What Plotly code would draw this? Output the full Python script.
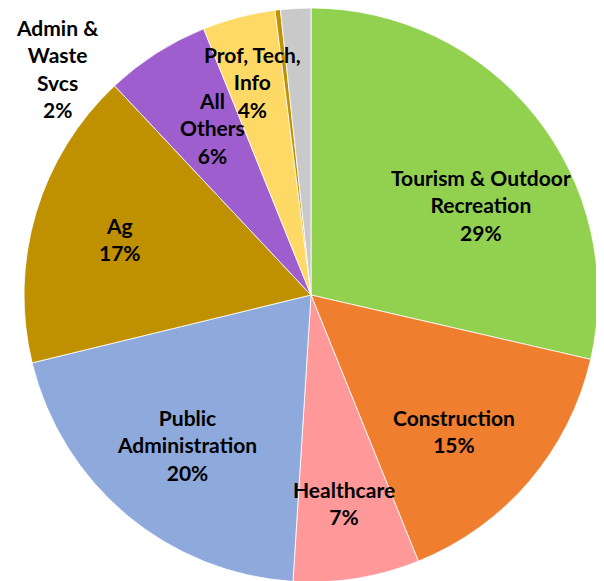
import plotly.graph_objects as go

# Data (clockwise from 12 o'clock)
categories = ["Tourism & Outdoor Recreation", "Construction", "Healthcare",
              "Public Administration", "Ag", "All Others", "Prof, Tech, Info",
              "Other", "Admin & Waste Svcs"]
values = [28.6, 15.3, 7.1, 20.2, 16.8, 5.9, 4.1, 0.3, 1.7]
label_lines = ["Tourism & Outdoor<br>Recreation<br>29%", "Construction<br>15%",
               "Healthcare<br>7%", "Public<br>Administration<br>20%", "Ag<br>17%",
               "All<br>Others<br>6%", "Prof, Tech,<br>Info<br>4%", "",
               "Admin &<br>Waste<br>Svcs<br>2%"]
colors = ["#92D050", "#F07E2F", "#FF9999", "#8EA9DB", "#BF9000",
          "#9E5ECE", "#FFD966", "#BF9000", "#C9C9C9"]

# label centre positions in window pixels (x, y from top)
label_pos = [(481, 205), (454, 431), (344, 503), (187, 445), (120, 239),
             (212, 128), (252, 82), None, (57, 69)]

W, H = 604, 581
OFF = 8  # page body margin

fig = go.Figure(go.Pie(
    labels=categories, values=values, sort=False, direction="clockwise",
    rotation=0, textinfo="none", hoverinfo="label+percent",
    marker=dict(colors=colors, line=dict(color="white", width=0.8)),
    domain=dict(x=[0.02649, 0.97682], y=[0.01205, 1.0]),
    showlegend=False,
))

for txt, pos in zip(label_lines, label_pos):
    if pos is None:
        continue
    fig.add_annotation(x=(pos[0] - OFF) / W, y=1 - (pos[1] - OFF) / H,
                       xref="paper", yref="paper",
                       text=txt, showarrow=False, xanchor="center", yanchor="middle",
                       font=dict(family="Lato", size=21, color="black", weight="bold"),
                       align="center")

fig.update_layout(width=W, height=H, margin=dict(l=0, r=0, t=0, b=0),
                  paper_bgcolor="white", plot_bgcolor="white")

fig.write_html("out.html")
